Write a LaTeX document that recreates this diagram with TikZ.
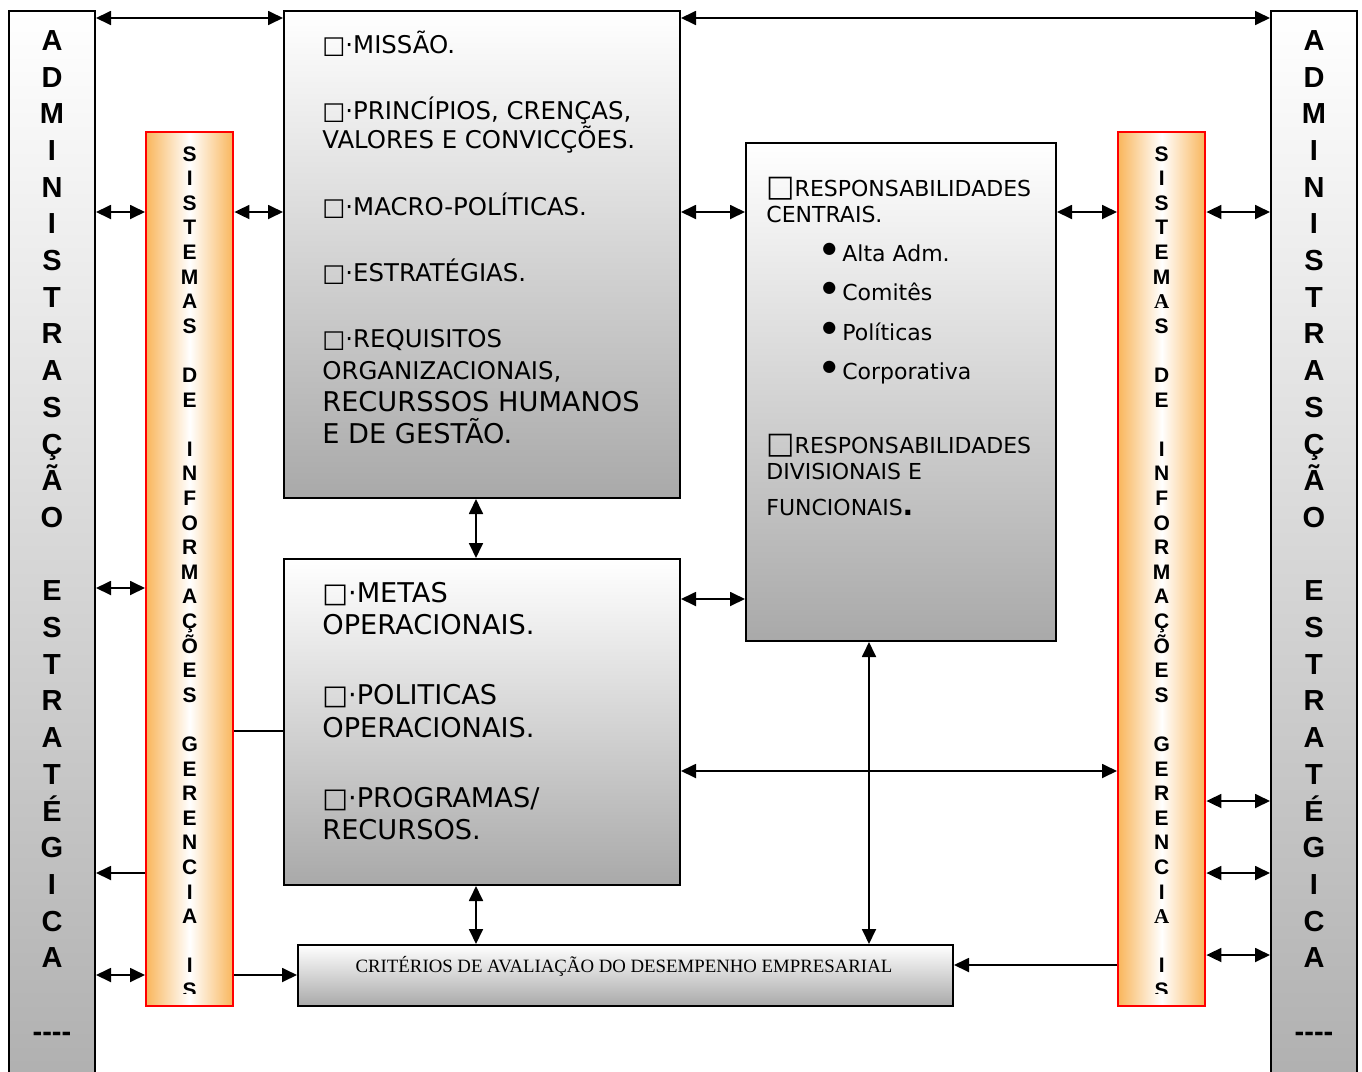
\documentclass[tikz,border=0pt]{standalone}
\usepackage{fontspec}
\newfontfamily\verd{DejaVu Sans}
\newfontfamily\arialf{Liberation Sans}
\newfontfamily\timesf{Liberation Serif}
\usetikzlibrary{arrows.meta, positioning, calc}
\definecolor{boxgray}{HTML}{A9A9A9}
\definecolor{admgray}{HTML}{B0B0B0}
\definecolor{sisorange}{HTML}{F9B65C}

\begin{document}
\begin{tikzpicture}[
  x=0.5pt, y=-0.5pt,
  graybox/.style={draw=black, line width=1pt, top color=white, bottom color=boxgray,
                  inner sep=0pt, anchor=north west},
  admbox/.style={graybox, bottom color=admgray, minimum width=43pt, minimum height=535pt},
  sisbox/.style={draw=red, line width=1.2pt, left color=sisorange, right color=sisorange,
                 middle color=white, inner sep=0pt, anchor=north west,
                 minimum width=43.5pt, minimum height=437pt},
  vadm/.style={font={\arialf\bfseries\fontsize{14.5}{18.35}\selectfont\lineskiplimit=-20pt},
               align=center, inner sep=0pt, anchor=north},
  vsis/.style={font={\arialf\bfseries\fontsize{10.5}{12.3}\selectfont\lineskiplimit=-20pt},
               align=center, inner sep=0pt, anchor=north},
  txtsm/.style={font=\verd\fontsize{12.2}{14}\selectfont, inner sep=0pt, anchor=base west},
  txtlg/.style={font=\verd\fontsize{13.6}{16}\selectfont, inner sep=0pt, anchor=base west},
  txtrs/.style={font=\verd\fontsize{11}{13}\selectfont, inner sep=0pt, anchor=base west},
  biarr/.style={{Triangle[length=7.5pt,width=7pt]}-{Triangle[length=7.5pt,width=7pt]},
                line width=0.9pt},
  onearr/.style={-{Triangle[length=7.5pt,width=7pt]}, line width=0.9pt},
  plain/.style={line width=0.9pt}
]
  \useasboundingbox (0,0) rectangle (1362,1072);

  % Outer columns
  \node[admbox] (adml) at (8,10) {};
  \node[admbox] (admr) at (1270,10) {};
  \node[vadm] (admltxt) at (adml.north |- 0,30)
    {A\\D\\M\\I\\N\\I\\S\\T\\R\\A\\S\\Ç\\Ã\\O\\~\\E\\S\\T\\R\\A\\T\\É\\G\\I\\C\\A\\~\\-{}-{}-{}-};
  \node[vadm] (admrtxt) at (admr.north |- 0,30)
    {A\\D\\M\\I\\N\\I\\S\\T\\R\\A\\S\\Ç\\Ã\\O\\~\\E\\S\\T\\R\\A\\T\\É\\G\\I\\C\\A\\~\\-{}-{}-{}-};

  % Information systems
  \node[sisbox] (sisl) at (145,131) {};
  \node[sisbox] (sisr) at (1117,131) {};
  \begin{scope}
    \clip (sisl.north west) rectangle ([yshift=7pt]sisl.south east);
    \node[vsis] (sisltxt) at (sisl.north |- 0,146)
      {S\\I\\S\\T\\E\\M\\A\\S\\~\\D\\E\\~\\I\\N\\F\\O\\R\\M\\A\\Ç\\Õ\\E\\S\\~\\G\\E\\R\\E\\N\\C\\I\\A\\~\\I\\S};
  \end{scope}
  \begin{scope}
    \clip (sisr.north west) rectangle ([yshift=7pt]sisr.south east);
    \node[vsis] (sisrtxt) at (sisr.north |- 0,146)
      {S\\I\\S\\T\\E\\M\\{\timesf A}\\S\\~\\D\\E\\~\\I\\N\\F\\O\\R\\M\\A\\Ç\\Õ\\E\\S\\~\\G\\E\\R\\E\\N\\C\\I\\{\timesf A}\\~\\I\\S};
  \end{scope}

  % Strategic block
  \node[graybox, minimum width=198pt, minimum height=243.5pt] (top) at (283,10) {};
  \node[txtsm] (missao) at (322,53) {□·MISSÃO.};
  \node[txtsm] (princ1) at (322,119) {□·PRINCÍPIOS, CRENÇAS,};
  \node[txtsm] (princ2) at (322,148) {VALORES E CONVICÇÕES.};
  \node[txtsm] (macro) at (322,215) {□·MACRO-POLÍTICAS.};
  \node[txtsm] (estrat) at (322,281) {□·ESTRATÉGIAS.};
  \node[txtsm] (requis1) at (322,347) {□·REQUISITOS};
  \node[txtsm] (requis2) at (322,379) {ORGANIZACIONAIS,};
  \node[txtlg] (requis3) at (322,411) {RECURSSOS HUMANOS};
  \node[txtlg] (requis4) at (322,443) {E DE GESTÃO.};

  % Operational block
  \node[graybox, minimum width=198pt, minimum height=163pt] (metas) at (283,558) {};
  \node[txtlg] (metas1) at (322,602) {□·METAS};
  \node[txtlg] (metas2) at (322,634) {OPERACIONAIS.};
  \node[txtlg] (polit1) at (322,704) {□·POLITICAS};
  \node[txtlg] (polit2) at (322,737) {OPERACIONAIS.};
  \node[txtlg] (progr1) at (322,807) {□·PROGRAMAS/};
  \node[txtlg] (progr2) at (322,839) {RECURSOS.};

  % Responsibilities
  \node[graybox, minimum width=155pt, minimum height=249pt] (resp) at (745,142) {};
  \node[txtrs] (central1) at (766,196) {{\fontsize{15}{15}\selectfont□}RESPONSABILIDADES};
  \node[txtrs] (central2) at (766,222) {CENTRAIS.};
  \node[txtrs] (altaadm) at (822,261) {\raisebox{4pt}{\fontsize{8}{8}\selectfont●}\hspace{3pt}Alta Adm.};
  \node[txtrs] (comites) at (822,300) {\raisebox{4pt}{\fontsize{8}{8}\selectfont●}\hspace{3pt}Comitês};
  \node[txtrs] (politicas) at (822,340) {\raisebox{4pt}{\fontsize{8}{8}\selectfont●}\hspace{3pt}Políticas};
  \node[txtrs] (corpor) at (822,379) {\raisebox{4pt}{\fontsize{8}{8}\selectfont●}\hspace{3pt}Corporativa};
  \node[txtrs] (divis1) at (766,453) {{\fontsize{15}{15}\selectfont□}RESPONSABILIDADES};
  \node[txtrs] (divis2) at (766,479) {DIVISIONAIS E};
  \node[txtrs] (divis3) at (766,515) {FUNCIONAIS{\bfseries\fontsize{14}{14}\selectfont .}};

  % Evaluation criteria
  \node[graybox, minimum width=327.5pt, minimum height=30.5pt] (crit) at (297,944) {};
  \node[font=\timesf\fontsize{9.4}{11}\selectfont, inner sep=0pt] (crittxt) at (624,966)
    {CRITÉRIOS DE AVALIAÇÃO DO DESEMPENHO EMPRESARIAL};

  % Arrows along the top
  \draw[biarr] (adml.east |- 0,18) -- (top.west |- 0,18);
  \draw[biarr] (top.east |- 0,18) -- (admr.west |- 0,18);

  % Row of arrows at the first level
  \draw[biarr] (adml.east |- 0,212) -- (sisl.west |- 0,212);
  \draw[biarr] (sisl.east |- 0,212) -- (top.west |- 0,212);
  \draw[biarr] (top.east |- 0,212) -- (resp.west |- 0,212);
  \draw[biarr] (resp.east |- 0,212) -- (sisr.west |- 0,212);
  \draw[biarr] (sisr.east |- 0,212) -- (admr.west |- 0,212);

  % Left side
  \draw[biarr] (adml.east |- 0,588) -- (sisl.west |- 0,588);
  \draw[plain] (sisl.east |- 0,731) -- (metas.west |- 0,731);
  \draw[onearr] (sisl.west |- 0,873) -- (adml.east |- 0,873);
  \draw[biarr] (adml.east |- 0,975) -- (sisl.west |- 0,975);
  \draw[onearr] (sisl.east |- 0,975) -- (crit.west |- 0,975);

  % Centre
  \draw[biarr] (476,0 |- top.south) -- (476,0 |- metas.north);
  \draw[biarr] (476,0 |- metas.south) -- (476,0 |- crit.north);
  \draw[biarr] (869,0 |- resp.south) -- (869,0 |- crit.north);
  \draw[biarr] (metas.east |- 0,599) -- (resp.west |- 0,599);
  \draw[biarr] (metas.east |- 0,771) -- (sisr.west |- 0,771);
  \draw[onearr] (sisr.west |- 0,965) -- (crit.east |- 0,965);

  % Right side
  \foreach \yy in {801,873,955}
    \draw[biarr] (sisr.east |- 0,\yy) -- (admr.west |- 0,\yy);
\end{tikzpicture}
\end{document}
